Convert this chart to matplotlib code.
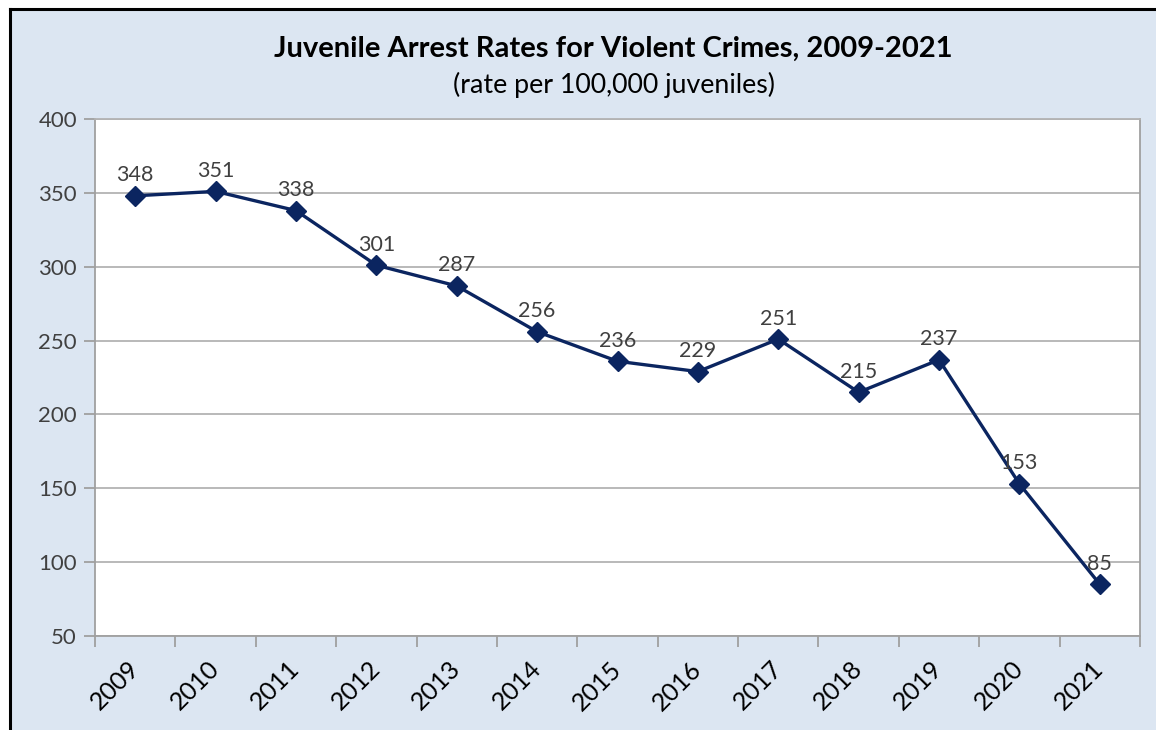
import matplotlib
matplotlib.use("Agg")
import matplotlib.pyplot as plt
import matplotlib.transforms as mtransforms
from matplotlib.lines import Line2D

years = ["2009", "2010", "2011", "2012", "2013", "2014", "2015", "2016",
         "2017", "2018", "2019", "2020", "2021"]
rates = [348, 351, 338, 301, 287, 256, 236, 229, 251, 215, 237, 153, 85]

plt.rcParams['font.family'] = ['Lato', 'DejaVu Sans']

W, H = 1156, 730
fig = plt.figure(figsize=(W / 100, H / 100), dpi=100)
fig.patch.set_facecolor('white')

# chart background panel
bg = plt.Rectangle((10 / W, 0), 1 - 10 / W, 1 - 9 / H, transform=fig.transFigure,
                   facecolor='#dce6f2', edgecolor='none', zorder=-10)
fig.patches.append(bg)
fig.lines.append(Line2D([10 / W, 10 / W], [0, 1 - 9 / H], transform=fig.transFigure,
                        color='black', lw=2.2, zorder=-5))
fig.lines.append(Line2D([10 / W, 1], [1 - 9 / H, 1 - 9 / H], transform=fig.transFigure,
                        color='black', lw=2.2, zorder=-5))

left, right, top, bottom = 95, 1140, 119, 636
ax = fig.add_axes([left / W, 1 - bottom / H, (right - left) / W, (bottom - top) / H])
ax.set_zorder(1)
ax.set_facecolor('white')

x = list(range(len(years)))
ax.plot(x, rates, color='#0b2560', lw=2.4, marker='D', markersize=10.5,
        markerfacecolor='#0b2560', markeredgecolor='#0b2560', zorder=3)
for xi, v in zip(x, rates):
    ax.annotate(str(v), (xi, v), xytext=(0, 10.5), textcoords='offset points',
                ha='center', va='baseline', fontsize=15.5, color='#404040')

ax.set_xlim(-0.5, len(years) - 0.5)
ax.set_ylim(50, 400)
ax.set_yticks(range(50, 401, 50))
ax.yaxis.grid(True, color='#b3b3b3', lw=1.3)
ax.set_axisbelow(True)

ax.set_xticks([i - 0.5 for i in range(len(years) + 1)], minor=False)
ax.set_xticklabels([])
ax.set_xticks(x, minor=True)
ax.set_xticklabels(years, minor=True, rotation=45, fontsize=18, color='black',
                   ha='right', va='center', rotation_mode='anchor')
shift = mtransforms.ScaledTranslation(4 / 100, 0, fig.dpi_scale_trans)
for lbl in ax.xaxis.get_minorticklabels():
    lbl.set_transform(lbl.get_transform() + shift)
ax.tick_params(axis='x', which='major', length=8, width=1.3, color='#a0a0a0', direction='out')
ax.tick_params(axis='x', which='minor', length=0, pad=21)
ax.tick_params(axis='y', length=8, width=1.3, color='#a0a0a0', labelsize=16,
               labelcolor='#404040', pad=5)
for s in ['left', 'bottom', 'right', 'top']:
    ax.spines[s].set_color('#a0a0a0')
    ax.spines[s].set_linewidth(1.3)
ax.spines['top'].set_color('#b3b3b3')

fig.text(613 / W, 1 - 49 / H, "Juvenile Arrest Rates for Violent Crimes, 2009-2021",
         ha='center', va='center', fontsize=21, fontweight='bold', color='black')
fig.text(614 / W, 1 - 85 / H, "(rate per 100,000 juveniles)",
         ha='center', va='center', fontsize=19.3, color='black')

fig.savefig("out.png", dpi=100, facecolor=fig.get_facecolor())
